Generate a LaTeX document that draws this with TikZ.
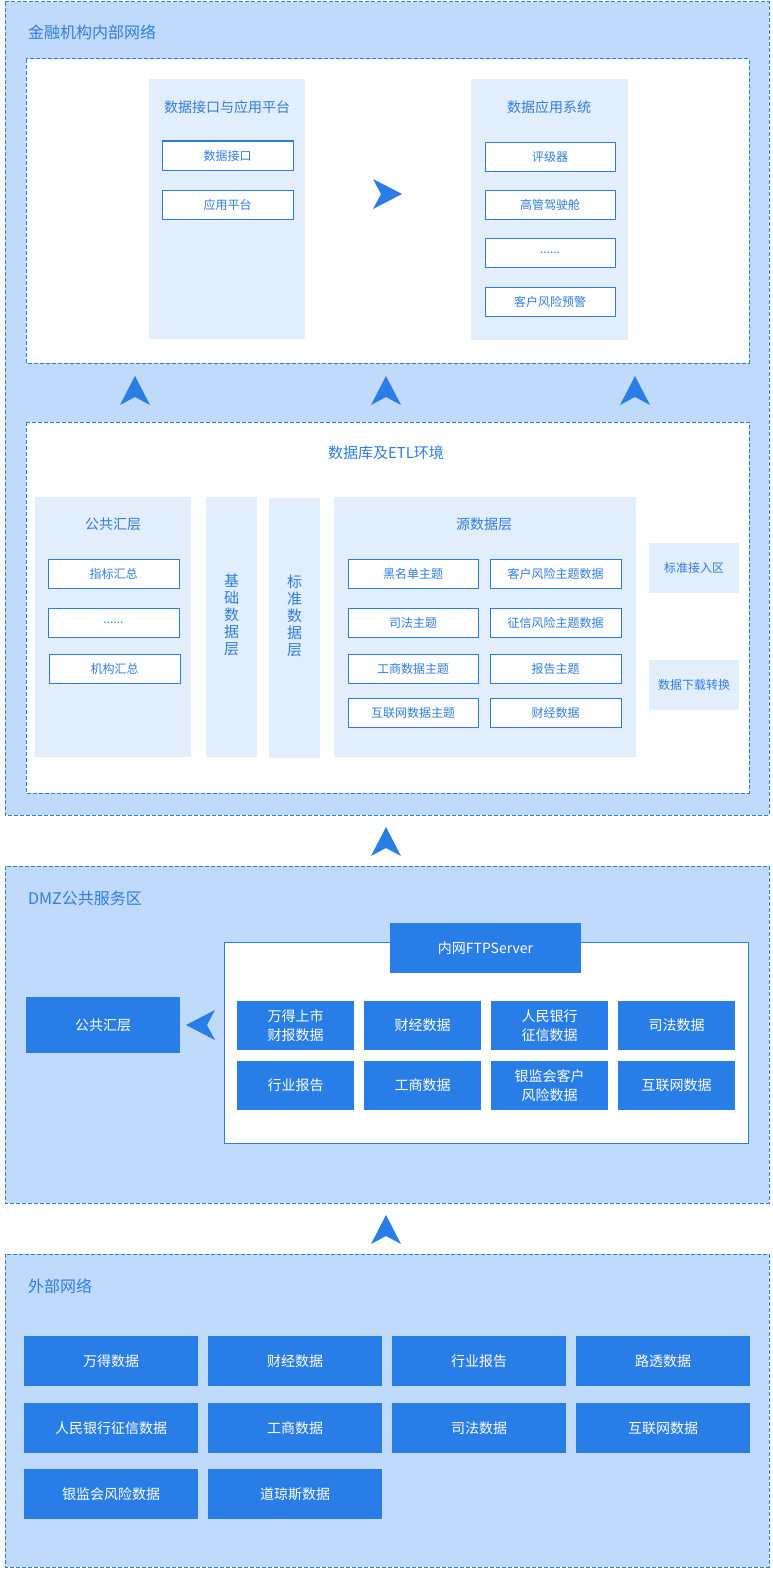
\documentclass[tikz,border=0pt]{standalone}
\usepackage{fontspec}
\setmainfont{Noto Sans CJK SC}
\definecolor{ZoneClr}{RGB}{192,218,252}
\definecolor{PanelClr}{RGB}{227,238,252}
\definecolor{LineClr}{RGB}{42,125,225}
\definecolor{BoxClr}{RGB}{41,125,230}
\definecolor{TextClr}{RGB}{47,125,224}

\begin{document}
\begin{tikzpicture}[x=1pt,y=-1pt,
  zone/.style={draw=LineClr,fill=ZoneClr,line width=1pt,dash pattern=on 4pt off 2pt},
  area/.style={draw=LineClr,fill=white,line width=1pt,dash pattern=on 4pt off 2pt},
  panel/.style={fill=PanelClr},
  ztitle/.style={anchor=west,inner sep=0pt,text=TextClr,font=\fontsize{16}{19}\selectfont},
  ptitle/.style={inner sep=0pt,text=TextClr,font=\fontsize{14}{17}\selectfont,align=center},
  sbox/.style={draw=LineClr,fill=white,line width=1pt,text=TextClr,inner sep=0pt,
    font=\fontsize{12}{14}\selectfont,minimum width=130pt,minimum height=29pt},
  fbox/.style={fill=BoxClr,text=white,inner sep=0pt,align=center,
    font=\fontsize{14}{19}\selectfont,minimum width=117pt,minimum height=49pt},
  xbox/.style={fbox,minimum width=174pt,minimum height=50pt},
  uparrow/.pic={\fill[BoxClr] (0,0) -- (15,29) -- (0,21) -- (-15,29) -- cycle;}]
\useasboundingbox (0,0) rectangle (773,1576);

% inner network
\draw[zone] (5,2) rectangle (769,815);
\node[ztitle] (netin) at (28,32) {金融机构内部网络};
\draw[area] (26,59) rectangle (749,363);
\fill[panel] (149,79) rectangle (305,339);
\node[ptitle] (apiplat) at (227,107) {数据接口与应用平台};
\node[sbox,minimum width=131pt] (api) at (227.5,155.5) {数据接口};
\node[sbox,minimum width=131pt] (plat) at (227.5,204.5) {应用平台};
\fill[panel] (471,79) rectangle (628,340);
\node[ptitle] (appsys) at (549,107) {数据应用系统};
\node[sbox] (rating) at (550,157) {评级器};
\node[sbox] (cockpit) at (550,205) {高管驾驶舱};
\node[sbox] (more1) at (550,252.5) {......};
\node[sbox] (warn) at (550,302) {客户风险预警};
\pic[rotate=-90] at (402,194) {uparrow};
\pic at (135,376) {uparrow};
\pic at (386,376) {uparrow};
\pic at (635,376) {uparrow};

\draw[area] (26,422) rectangle (749,793);
\node[ptitle,font=\fontsize{15}{18}\selectfont] (etl) at (386,453) {数据库及ETL环境};
\fill[panel] (35,497) rectangle (191,757);
\node[ptitle] (pubsum) at (113,524) {公共汇层};
\node[sbox,minimum width=131pt] (index) at (113.5,573.5) {指标汇总};
\node[sbox,minimum width=131pt] (more2) at (113.5,622.5) {......};
\node[sbox,minimum width=131pt] (orgsum) at (114.5,668.5) {机构汇总};
\fill[panel] (206,497) rectangle (257,757);
\node[ptitle,font=\fontsize{15}{17}\selectfont] (baselayer) at (231.5,615) {基\\础\\数\\据\\层};
\fill[panel] (269,498) rectangle (320,758);
\node[ptitle,font=\fontsize{15}{17}\selectfont] (stdlayer) at (294.5,616) {标\\准\\数\\据\\层};
\fill[panel] (334,497) rectangle (636,757);
\node[ptitle] (srclayer) at (484,524) {源数据层};
\node[sbox] (black) at (413,573.5) {黑名单主题};
\node[sbox] (judic) at (413,622.5) {司法主题};
\node[sbox] (biz) at (413,668.5) {工商数据主题};
\node[sbox] (web) at (413,712.5) {互联网数据主题};
\node[sbox,minimum width=131pt] (custrisk) at (555.5,573.5) {客户风险主题数据};
\node[sbox,minimum width=131pt] (credrisk) at (555.5,622.5) {征信风险主题数据};
\node[sbox,minimum width=131pt] (report) at (555.5,668.5) {报告主题};
\node[sbox,minimum width=131pt] (fin) at (555.5,712.5) {财经数据};
\node[panel,ptitle,font=\fontsize{12}{14}\selectfont,minimum width=90pt,minimum height=50pt] (stdin) at (694,568) {标准接入区};
\node[panel,ptitle,font=\fontsize{12}{14}\selectfont,minimum width=90pt,minimum height=50pt] (dlconv) at (694,685) {数据下载转换};

\pic at (386,827) {uparrow};

% DMZ
\draw[zone] (5,866) rectangle (769,1203);
\node[ztitle] (dmz) at (28,898) {DMZ公共服务区};
\node[fbox,minimum width=154pt,minimum height=56pt] (dmzsum) at (103,1025) {公共汇层};
\pic[rotate=90] at (186,1025) {uparrow};
\draw[draw=LineClr,fill=white,line width=1pt] (224,942) rectangle (748,1143);
\node[fbox,minimum width=191pt,minimum height=50pt] (ftp) at (485.5,948) {内网FTPServer};
\node[fbox] (windrep) at (295.5,1025.5) {万得上市\\财报数据};
\node[fbox] (dfin) at (422.5,1025.5) {财经数据};
\node[fbox] (pboc) at (549.5,1025.5) {人民银行\\征信数据};
\node[fbox] (djud) at (676.5,1025.5) {司法数据};
\node[fbox] (indrep) at (295.5,1085.5) {行业报告};
\node[fbox] (dbiz) at (422.5,1085.5) {工商数据};
\node[fbox] (cbrc) at (549.5,1085.5) {银监会客户\\风险数据};
\node[fbox] (dweb) at (676.5,1085.5) {互联网数据};

\pic at (386,1215) {uparrow};

% external
\draw[zone] (5,1254) rectangle (769,1567);
\node[ztitle] (netout) at (28,1286) {外部网络};
\node[xbox] (wind) at (111,1361) {万得数据};
\node[xbox] (xfin) at (295,1361) {财经数据};
\node[xbox] (xrep) at (479,1361) {行业报告};
\node[xbox] (reuters) at (663,1361) {路透数据};
\node[xbox] (xpboc) at (111,1428) {人民银行征信数据};
\node[xbox] (xbiz) at (295,1428) {工商数据};
\node[xbox] (xjud) at (479,1428) {司法数据};
\node[xbox] (xweb) at (663,1428) {互联网数据};
\node[xbox] (xcbrc) at (111,1494) {银监会风险数据};
\node[xbox] (dowj) at (295,1494) {道琼斯数据};
\end{tikzpicture}
\end{document}
